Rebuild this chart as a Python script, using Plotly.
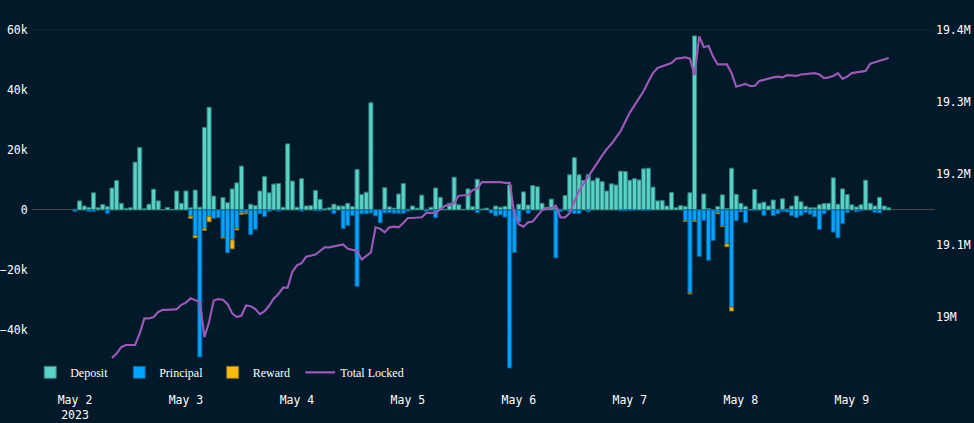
#!/usr/bin/env python3
# -*- coding:utf-8 -*-

import numpy as np
import pandas as pd
import plotly.graph_objects as go

# hourly values, thousands
deposit = [
    0.2, 3, 1.3, 0.8, 5.7, 0.7, 1.8, 1.1, 7.3, 9.8,
    2.2, 0.5, 0.7, 15.9, 20.8, 0.4, 1.9, 6.9, 3, 0.1,
    0.8, 0.2, 6.3, 2.2, 6.3, 0.7, 6.6, 0.9, 27.5, 34.2,
    4.6, 0, 4.1, 2.4, 7, 9, 14.6, 0.1, 1.9, 1.4,
    6.3, 11.1, 5.7, 8.6, 8.8, 0.9, 22, 9.6, 0.9, 10.4,
    1.3, 1.4, 6.5, 3.5, 0.4, 0.7, 1.9, 1.3, 1.3, 2.2,
    1.1, 13.5, 5.1, 5.9, 35.7, 0, 0, 7.4, 1, 0.6,
    5.3, 8.8, 0.2, 1.3, 0.6, 4.9, 0.2, 0.9, 7.3, 4.2,
    0.2, 2.2, 10.9, 1.7, 0.2, 7, 1.1, 10.2, 0.3, 0.6,
    0, 1.3, 0.9, 1.2, 8.3, 0, 1.9, 6, 1.6, 8.1,
    7.7, 2.2, 0.9, 3.6, 0.7, 0.2, 4.8, 11.7, 17.4, 11.7,
    9.8, 11.7, 9.7, 10.6, 9.4, 6.3, 8.7, 8.3, 12.9, 12.8,
    9.9, 10.4, 10, 13.7, 13.9, 7.6, 3, 3.1, 1.3, 5.8,
    0.7, 1.4, 1.2, 5.7, 58, 0, 5.3, 0.5, 0, 1.1,
    5, 0.5, 13.9, 5.2, 2.2, 1.2, 0.1, 6.8, 2.2, 2.6,
    1.3, 3.3, 0.2, 3.7, 0.3, 1.3, 4.6, 2.7, 1.2, 0.7,
    0.7, 1.7, 2.1, 2.2, 10.7, 1.9, 7, 5.1, 1.7, 1,
    1.7, 9.9, 2.2, 1.3, 4.2, 1.3, 0.7,
]
principal = [
    -0.5, 0, 0, -0.5, -0.5, 0, 0, -1.1, 0, 0,
    0, 0, 0, 0, 0, 0, 0, 0, 0, 0,
    0, 0, 0, 0, 0, -2.1, -8.5, -49, -6.2, -2.2,
    -2.8, -2.6, -9.2, -14.3, -10, -6.2, -1, -1, -8.2, -6.5,
    -1.3, -2.2, -0.5, 0, -0.4, 0, 0, 0, 0, -0.4,
    0, 0, -0.3, -0.3, 0, 0, -1.2, 0, -6.2, -5.2,
    -1.8, -25.5, -1.3, -1.3, -1, -2, -4.3, -1, -0.9, -1.1,
    -1.1, -1.1, -0.4, 0, 0, 0, -0.5, 0, -2.6, 0,
    0, 0, 0, 0, 0, 0, 0, -0.9, 0, 0,
    -1, -2, -1.6, -2.4, -52.7, -14.2, -4, 0, -1.1, 0,
    0, 0, 0, 0, -16, -0.5, 0, -0.6, -1.2, -1.2,
    0, -0.6, 0, 0, 0, 0, 0, 0, -0.3, -0.3,
    -0.2, -0.2, 0, -0.2, -0.2, 0, 0, 0, 0, 0,
    0, 0, -3.6, -27.7, -3.6, -15.5, -3.5, -16.8, -10.2, -1,
    -5.4, -11.3, -32.4, -3.6, -0.5, -4.2, 0, -0.2, 0, -1.8,
    0, -1.9, -1.3, -0.5, -0.7, -1.9, -2.5, -1.8, -0.9, -1.4,
    -2.3, -6.5, -1.3, 0, -7.4, -9.3, -4.6, -0.9, 0, -0.6,
    -0.3, 0, 0, -0.8, -1, 0, 0,
]
reward = [
    0, 0, 0, 0, 0, 0, 0, 0, 0, 0,
    0, 0, 0, 0, 0, 0, 0, 0, 0, 0,
    0, 0, 0, 0, 0, -0.7, -0.8, 0, -0.6, -1.8,
    0, 0, -0.2, 0, -3, -0.5, -0.5, -0.3, 0, 0,
    0, 0, 0, 0, 0, 0, 0, 0, 0, 0,
    0, 0, 0, 0, 0, 0, 0, 0, 0, 0,
    0, 0, 0, 0, 0, 0, 0, 0, 0, 0,
    0, 0, 0, 0, 0, 0, 0, 0, 0, 0,
    0, 0, 0, 0, 0, 0, 0, 0, 0, 0,
    0, 0, 0, 0, 0, 0, 0, 0, 0, 0,
    0, 0, 0, 0, 0, 0, 0, 0, 0, 0,
    0, 0, 0, 0, 0, 0, 0, 0, 0, 0,
    0, 0, 0, 0, 0, 0, 0, 0, 0, 0,
    0, 0, -0.3, -0.3, -0.3, 0, 0, 0, 0, -0.3,
    -0.2, -1, -1.3, 0, -0.1, 0, 0, 0, 0, 0,
    0, 0, 0, 0, 0, 0, 0, 0, 0, 0,
    0, 0, 0, 0, 0, 0, 0, 0, 0, 0,
    0, 0, 0, 0, 0, 0, 0,
]
# total locked starts 8 hours in, thousands
total_locked = [
    18943, 18949, 18958, 18961, 18961, 18961, 18977, 18998, 18998, 19000,
    19007, 19010, 19010, 19010, 19011, 19017, 19020, 19026, 19023, 19021,
    18972, 18993, 19023, 19025, 19024, 19018, 19005, 19000, 19002, 19016,
    19015, 19011, 19004, 19008, 19016, 19026, 19032, 19041, 19041, 19063,
    19072, 19075, 19084, 19085, 19087, 19092, 19097, 19097, 19098, 19099,
    19101, 19095, 19093, 19092, 19080, 19085, 19090, 19125, 19123, 19118,
    19125, 19126, 19125, 19131, 19138, 19138, 19138, 19139, 19145, 19145,
    19145, 19150, 19155, 19156, 19159, 19169, 19170, 19170, 19177, 19179,
    19188, 19188, 19189, 19188, 19188, 19187, 19187, 19145, 19129, 19126,
    19132, 19133, 19141, 19149, 19151, 19152, 19155, 19139, 19139, 19145,
    19161, 19176, 19186, 19196, 19206, 19215, 19225, 19234, 19241, 19250,
    19259, 19272, 19285, 19295, 19305, 19315, 19328, 19340, 19347, 19349,
    19352, 19354, 19360, 19361, 19362, 19360, 19337, 19391, 19376, 19378,
    19363, 19352, 19352, 19352, 19340, 19321, 19323, 19325, 19322, 19322,
    19329, 19331, 19332, 19334, 19335, 19334, 19337, 19337, 19336, 19338,
    19339, 19340, 19340, 19338, 19333, 19334, 19336, 19340, 19332, 19335,
    19340, 19341, 19342, 19343, 19353, 19355, 19357, 19360, 19361,
]

times = pd.date_range("2023-05-02", periods=len(deposit), freq="h")

BG = "#011929"
MONO = "DejaVu Sans Mono"


def barTrace(name, values, color, edge, width):
    # zero hours stay empty, their border would sit on top of the stack
    return go.Bar(
        x=times, y=[v * 1000 if v else None for v in values], name=name,
        legendwidth=width,
        marker=dict(color=color, line=dict(color=edge, width=1)),
    )


fig = go.Figure()
fig.add_trace(barTrace("Deposit", deposit, "#5AD3C5", "#2E7F7C", 44))
fig.add_trace(barTrace("Principal", principal, "#00A3FF", "#075F95", 48.5))
fig.add_trace(barTrace("Reward", reward, "#F7BB14", "#8A6E1A", 42.5))
fig.add_trace(go.Scatter(
    x=times[8:], y=np.array(total_locked) * 1000, name="Total Locked",
    mode="lines", yaxis="y2", line=dict(color="#9B59B6", width=2.2),
))

fig.update_layout(
    width=974, height=423,
    margin=dict(l=32, r=39, t=23, b=40),
    paper_bgcolor=BG, plot_bgcolor=BG,
    barmode="relative", bargap=0.12,
    font=dict(family=MONO, size=11.5, color="#FFFFFF"),
    legend=dict(
        orientation="h", x=-0.002, xanchor="left", y=0.07, yanchor="top",
        bgcolor="rgba(0,0,0,0)",
        font=dict(family="Liberation Serif", size=12, color="#FFFFFF"),
    ),
    xaxis=dict(
        type="date", range=["2023-05-01 14:42", "2023-05-09 18:00"],
        dtick=86400000, showgrid=False, zeroline=False, showline=False,
        ticks="outside", ticklen=6, tickcolor="rgba(0,0,0,0)", automargin=False,
    ),
    yaxis=dict(
        range=[-57700, 62300], dtick=20000, tickformat="~s",
        automargin=False, gridcolor="rgba(255,255,255,0.025)",
        zeroline=True, zerolinecolor="#4A4A45", zerolinewidth=1,
        ticks="outside", ticklen=1, tickcolor="rgba(0,0,0,0)",
    ),
    yaxis2=dict(
        overlaying="y", side="right", range=[18908000, 19409800],
        dtick=100000, tickformat="~s", automargin=False,
        gridcolor="rgba(255,255,255,0.025)", zeroline=False,
    ),
)

# page body margin would push the chart off the window
fig.write_html("out.html", config={"displayModeBar": False},
               post_script="document.body.style.margin='0';")
